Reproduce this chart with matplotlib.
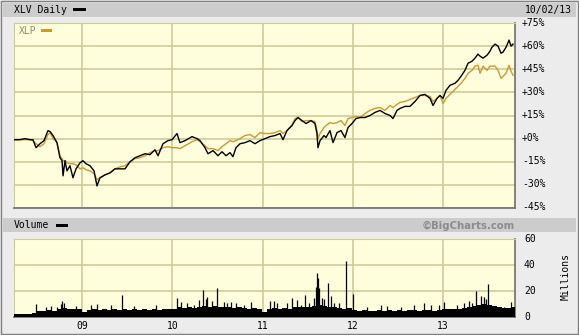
import numpy as np
import matplotlib
matplotlib.use("Agg")
import matplotlib.pyplot as plt
from matplotlib.patches import Rectangle

# ---------------- data (decimal years, % change) ----------------
t = [2008.247, 2008.313, 2008.369, 2008.424, 2008.457, 2008.491, 2008.535, 2008.579, 2008.623, 2008.646,
     2008.679, 2008.723, 2008.756, 2008.779, 2008.790, 2008.812, 2008.834, 2008.867, 2008.900, 2008.934,
     2008.978, 2009.011, 2009.044, 2009.089, 2009.133, 2009.166, 2009.199, 2009.255, 2009.310, 2009.365,
     2009.421, 2009.476, 2009.532, 2009.587, 2009.642, 2009.698, 2009.753, 2009.808, 2009.842, 2009.897,
     2009.952, 2009.997, 2010.052, 2010.085, 2010.141, 2010.218, 2010.274, 2010.307, 2010.362, 2010.395,
     2010.451, 2010.506, 2010.550, 2010.595, 2010.639, 2010.672, 2010.705, 2010.750, 2010.805, 2010.860,
     2010.916, 2010.971, 2011.027, 2011.082, 2011.137, 2011.193, 2011.226, 2011.270, 2011.326, 2011.359,
     2011.392, 2011.436, 2011.481, 2011.536, 2011.580, 2011.602, 2011.613, 2011.636, 2011.680, 2011.702,
     2011.746, 2011.780, 2011.824, 2011.868, 2011.912, 2011.946, 2011.990, 2012.034, 2012.079, 2012.134,
     2012.189, 2012.245, 2012.300, 2012.355, 2012.411, 2012.444, 2012.488, 2012.522, 2012.577, 2012.632,
     2012.688, 2012.743, 2012.798, 2012.854, 2012.887, 2012.931, 2012.965, 2012.998, 2013.031, 2013.075,
     2013.131, 2013.164, 2013.197, 2013.241, 2013.275, 2013.319, 2013.352, 2013.385, 2013.408, 2013.441,
     2013.485, 2013.518, 2013.540, 2013.574, 2013.607, 2013.640, 2013.662, 2013.696, 2013.729, 2013.751,
     2013.773]

xlv = [-0.7, -0.7, 0.0, -0.7, -0.7, -5.9, -3.3, -1.3, 5.2, 4.6,
       2.0, -2.6, -12.4, -14.3, -24.1, -14.3, -20.9, -17.6, -25.4, -19.6,
       -15.7, -14.3, -16.3, -17.6, -20.9, -30.7, -25.4, -23.5, -22.2, -19.6,
       -19.6, -19.6, -15.0, -12.4, -11.1, -9.8, -10.4, -7.2, -11.1, -3.3,
       -1.3, -0.7, 3.3, -2.6, -1.3, 1.3, 0.0, -1.3, -5.9, -9.8,
       -7.8, -11.1, -8.5, -11.1, -9.1, -11.7, -5.9, -3.3, -2.6, -1.3,
       -3.3, -1.3, 0.0, 1.3, 2.0, 3.3, -0.7, 5.2, 8.5, 11.7,
       13.7, 11.7, 9.8, 11.7, 9.8, 3.3, -5.9, -1.3, 2.0, 0.7,
       5.2, -2.6, 3.9, 5.2, 0.7, 7.2, 9.8, 13.0, 13.7, 13.7,
       15.0, 17.0, 18.3, 16.3, 15.0, 13.0, 18.3, 19.6, 20.9, 20.9,
       24.1, 28.0, 28.7, 26.1, 21.5, 26.1, 28.0, 26.1, 31.3, 34.6,
       35.9, 37.8, 40.4, 44.3, 48.9, 50.2, 52.2, 54.8, 53.5, 52.2,
       54.1, 56.7, 59.3, 61.3, 60.0, 55.4, 56.1, 59.3, 63.9, 60.0,
       61.3]

xlp = [-0.7, -0.7, -0.7, -0.7, -1.3, -3.3, -5.2, -3.3, 2.6, 3.9,
       0.0, -2.6, -11.1, -13.0, -14.3, -14.3, -15.7, -16.3, -16.3, -17.0,
       -19.6, -18.9, -20.2, -20.9, -22.8, -26.7, -25.4, -23.5, -22.2, -19.6,
       -18.3, -17.6, -15.0, -13.0, -12.4, -11.1, -9.1, -7.8, -7.8, -5.9,
       -5.2, -5.9, -5.9, -6.5, -4.6, -2.0, -0.7, -2.0, -4.6, -6.5,
       -6.5, -7.8, -5.2, -3.3, -1.3, -2.0, -1.3, 0.0, 2.0, 2.6,
       0.7, 3.9, 3.3, 3.3, 3.9, 5.2, 3.3, 5.2, 9.1, 13.0,
       13.7, 11.1, 11.7, 11.7, 11.1, 5.2, 0.0, 3.3, 7.2, 8.5,
       10.4, 9.8, 10.4, 11.7, 8.5, 13.0, 13.7, 14.3, 13.7, 16.3,
       18.3, 19.6, 20.2, 18.3, 21.5, 20.2, 22.2, 23.5, 24.1, 25.4,
       26.7, 28.0, 28.0, 27.4, 24.1, 26.1, 28.0, 22.8, 26.1, 28.7,
       32.0, 33.9, 35.9, 39.1, 42.4, 44.3, 47.0, 47.6, 42.4, 47.0,
       44.3, 47.0, 47.0, 47.0, 44.3, 39.1, 40.4, 42.4, 47.6, 43.7,
       41.1]

# volume (millions): regular base level samples + individual spikes
vol_base = [2, 2, 2.5, 2, 3,
            5, 4.5, 5.5, 5, 6,
            7, 6, 6.5, 6,
            4,
            5.5, 6, 5.5, 6.5, 5.5, 6, 5.5, 6, 5.5, 6.5, 5.5, 6, 5.5, 6, 5.5, 6, 6,
            6.5, 7.5, 7, 7.5, 7, 7.5, 8.5, 8, 8.5, 7.5, 8, 7.5, 7, 7.5, 7, 6.5, 7, 6.5,
            4,
            6.5, 7, 6.5, 7, 6.5, 7.5, 8, 7.5, 8, 8.5, 9.5, 8.5, 7.5, 8, 7, 6.5, 7,
            5.5, 5, 5.5, 5, 5, 5.5, 5, 5.5, 5, 5.5, 5, 5.5, 5.5, 5, 5.5, 5.5, 5, 5.5,
            6, 6.5, 6, 6.5, 7, 7.5, 8.5, 9.5, 10, 9.5, 8.5, 7.5, 7, 7, 7.5]
vol_base_start, vol_base_end = 2008.247, 2013.784

spike_t = [2008.494, 2008.598, 2008.653, 2008.726, 2008.764, 2008.782, 2008.801, 2008.930,
           2009.096, 2009.169, 2009.318, 2009.446, 2009.576, 2009.816,
           2010.055, 2010.093, 2010.296, 2010.343, 2010.388, 2010.499, 2010.573, 2010.647, 2010.868,
           2011.082, 2011.329, 2011.384, 2011.466, 2011.569, 2011.588, 2011.599, 2011.613, 2011.625,
           2011.661, 2011.728, 2011.754, 2011.920,
           2012.004, 2012.308, 2012.787,
           2013.009, 2013.360, 2013.415, 2013.452, 2013.496, 2013.747,
           2010.166, 2010.240, 2010.370, 2010.443, 2010.609, 2010.702, 2010.794,
           2011.126, 2011.163, 2011.274, 2011.422, 2011.514, 2011.680, 2011.791, 2011.846,
           2012.160, 2012.381, 2012.529, 2012.677, 2012.861, 2012.953,
           2013.156, 2013.230, 2013.286, 2013.322, 2013.471, 2013.599, 2013.673]
spike_v = [10, 8, 8.7, 8, 9.7, 12.3, 10.5, 8.5,
           9.2, 9.7, 9.2, 17, 8.7, 9.2,
           14.9, 11.8, 13.1, 20.8, 15.7, 22.6, 11.8, 11.3, 11.8,
           12.3, 14.9, 13.1, 16.9, 14.4, 23.3, 33.6, 29.7, 22,
           14.4, 26.2, 16.1, 43,
           18, 9.2, 11,
           11.3, 20, 16.1, 15.6, 25.1, 11.8,
           10.5, 9, 14, 12, 10.5, 10.5, 9,
           12, 10.5, 10.5, 9, 10.5, 14, 10.5, 10.5,
           8, 8.7, 8, 9, 9, 9,
           9, 10.5, 12, 10.5, 14, 8, 8]

pct_ticks = [75, 60, 45, 30, 15, 0, -15, -30, -45]
pct_labels = ["+75%", "+60%", "+45%", "+30%", "+15%", "+0%", "-15%", "-30%", "-45%"]
vol_ticks = [60, 40, 20, 0]
year_ticks = [2009, 2010, 2011, 2012, 2013]
year_labels = ["09", "10", "11", "12", "13"]

assert len(t) == len(xlv) == len(xlp)
assert len(spike_t) == len(spike_v)

# ---------------- figure ----------------
W, H = 579, 335
fig = plt.figure(figsize=(W / 100, H / 100), dpi=100, facecolor="#ececec")

def fx(x): return x / W
def fy(y): return 1 - y / H

def rect(x0, y0, x1, y1, **kw):
    fig.add_artist(Rectangle((fx(x0), fy(y1)), fx(x1) - fx(x0), fy(y0) - fy(y1),
                             transform=fig.transFigure, **kw))

MONO = "DejaVu Sans Mono"
BG = "#fefedd"
GRID = "#cccc99"
GOLD = "#cc9933"
XMIN, XMAX = 2008.247, 2013.795

# frame and header bars
rect(1, 1, 577.5, 333.5, facecolor="none", edgecolor="#808080", lw=1.0)
rect(3, 3, 576, 17, facecolor="#cccccc", edgecolor="none")
rect(3, 218, 576, 232, facecolor="#cccccc", edgecolor="none")

# ---- main price axes ----
ax = fig.add_axes([fx(14), fy(208), fx(515) - fx(14), fy(23) - fy(208)])
ax.set_facecolor(BG)
ax.set_xlim(XMIN, XMAX)
ax.set_ylim(-45, 75)
for v in pct_ticks:
    ax.axhline(v, color=GRID, lw=1.2, zorder=1)
for yr in year_ticks:
    ax.axvline(yr, color=GRID, lw=1.2, zorder=1)
ax.plot(t, xlp, color=GOLD, lw=1.0, zorder=3)
ax.plot(t, xlv, color="black", lw=1.0, zorder=4)
ax.set_xticks([]); ax.set_yticks([])
for s in ["left", "top"]:
    ax.spines[s].set_color(GRID)
for s in ["right", "bottom"]:
    ax.spines[s].set_color("#777777")
    ax.spines[s].set_linewidth(1.3)

# ---- volume axes ----
axv = fig.add_axes([fx(14), fy(317), fx(515) - fx(14), fy(239) - fy(317)])
axv.set_facecolor(BG)
axv.set_xlim(XMIN, XMAX)
axv.set_ylim(0, 60)
for v in [20, 40, 60]:
    axv.axhline(v, color=GRID, lw=1.2, zorder=1)
for yr in year_ticks:
    axv.axvline(yr, color=GRID, lw=1.2, zorder=1)
base_t = np.linspace(vol_base_start, vol_base_end, len(vol_base))
step = base_t[1] - base_t[0]
axv.bar(base_t, vol_base, width=step, color="black", align="center", zorder=3, linewidth=0)
axv.vlines(spike_t, 0, spike_v, color="black", lw=0.9, zorder=3)
axv.set_xticks([]); axv.set_yticks([])
for s in ["left", "top"]:
    axv.spines[s].set_color(GRID)
for s in ["right", "bottom"]:
    axv.spines[s].set_color("#777777")
    axv.spines[s].set_linewidth(1.3)

# ---- texts ----
fig.text(fx(14), fy(10), "XLV Daily", family=MONO, fontsize=7, va="center", ha="left", color="black")
rect(73, 8, 86, 11, facecolor="black", edgecolor="none")
fig.text(fx(572), fy(10), "10/02/13", family=MONO, fontsize=7, va="center", ha="right", color="black")

fig.text(fx(19), fy(30.5), "XLP", family=MONO, fontsize=7, va="center", ha="left", color="#8f8f70")
rect(41, 29.5, 52, 32, facecolor=GOLD, edgecolor="none")

fig.text(fx(14), fy(225.5), "Volume", family=MONO, fontsize=7, va="center", ha="left", color="black")
rect(56, 224, 68, 227, facecolor="black", edgecolor="none")
fig.text(fx(515), fy(225.5), "\u00a9BigCharts.com", family="DejaVu Sans", fontweight="bold",
         fontsize=7.3, va="center", ha="right", color="#8c8c8c")

for v, lab in zip(pct_ticks, pct_labels):
    yp = 138 - v * 23 / 15
    fig.text(fx(522), fy(yp), lab, family=MONO, fontsize=7, va="center", ha="left", color="black")
for v in vol_ticks:
    yp = 317 - v * 1.3
    fig.text(fx(524), fy(yp), str(v), family=MONO, fontsize=7, va="center", ha="left", color="black")
fig.text(fx(566), fy(276), "Millions", family=MONO, fontsize=7, va="center", ha="center",
         rotation=90, color="black")

for yr, lab in zip(year_ticks, year_labels):
    xp = 82 + (yr - 2009) * 90.3
    fig.text(fx(xp), fy(326), lab, family=MONO, fontsize=7, va="center", ha="center", color="black")

fig.savefig("out.png", dpi=100, facecolor=fig.get_facecolor())
